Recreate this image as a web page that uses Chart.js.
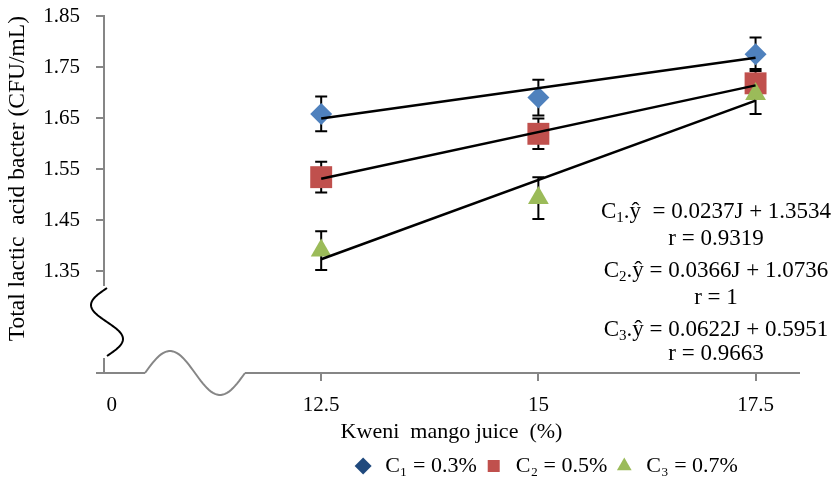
<!DOCTYPE html>
<html>
<head>
<meta charset="utf-8">
<script src="https://cdn.jsdelivr.net/npm/chart.js@4.4.1/dist/chart.umd.min.js"></script>
<style>
  html, body { margin: 0; padding: 0; background: #fff; }
  #wrap { width: 838px; height: 477px; }
</style>
</head>
<body>
<div id="wrap"><canvas id="myChart"></canvas></div>
<script>
const FONT = "'Liberation Serif', 'Times New Roman', serif";
const GRAY = "#868686";
const COLOR = ["#4F81BD", "#C0504D", "#9BBB59"];

// data
const juice = [12.5, 15, 17.5];
const c1 = [1.658, 1.690, 1.775];
const c2 = [1.534, 1.619, 1.718];
const c3 = [1.390, 1.493, 1.697];
const err1 = [0.034, 0.035, 0.033];
const err2 = [0.030, 0.030, 0.028];
const err3 = [0.038, 0.041, 0.039];
const trendX = [12.5, 17.5];
const trend1 = [1.649, 1.768];
const trend2 = [1.531, 1.714];
const trend3 = [1.373, 1.684];
const yTicks = [1.15, 1.35, 1.45, 1.55, 1.65, 1.75, 1.85];
const xTicks = [10.09, 12.5, 15, 17.5];
const xLabels = ["0", "12.5", "15", "17.5"];
const names = ["C\u2081 = 0.3%", "C\u2082 = 0.5%", "C\u2083 = 0.7%"];
const equations = [
  ["C", "1", ".\u0177  = 0.0237J + 1.3534"],
  ["", "", "r = 0.9319"],
  ["C", "2", ".\u0177 = 0.0366J + 1.0736"],
  ["", "", "r = 1"],
  ["C", "3", ".\u0177 = 0.0622J + 0.5951"],
  ["", "", "r = 0.9663"],
];
const errs = [err1, err2, err3];

const pts = (xs, ys) => xs.map((x, i) => ({ x: x, y: ys[i] }));

const trendSet = (ys) => ({
  type: "line",
  data: pts(trendX, ys),
  showLine: true,
  borderColor: "#000",
  borderWidth: 2.5,
  pointRadius: 0,
  order: 1,
});

const extras = {
  id: "extras",
  afterLayout(chart) {
    // centre the legend row under the plot like the original
    const lg = chart.legend;
    const shift = 545 - (lg.left + lg.right) / 2;
    lg.left += shift;
    lg.right += shift;
  },
  beforeDatasetsDraw(chart) {
    const c = chart.ctx;
    const ys = chart.scales.y;
    c.save();
    c.strokeStyle = "#000";
    c.lineWidth = 2;
    for (let d = 0; d < 3; d++) {
      const meta = chart.getDatasetMeta(d);
      const vals = chart.data.datasets[d].data;
      meta.data.forEach((p, i) => {
        const top = ys.getPixelForValue(vals[i].y + errs[d][i]);
        const bot = ys.getPixelForValue(vals[i].y - errs[d][i]);
        c.beginPath();
        c.moveTo(p.x, top); c.lineTo(p.x, bot);
        c.moveTo(p.x - 6, top); c.lineTo(p.x + 6, top);
        c.moveTo(p.x - 6, bot); c.lineTo(p.x + 6, bot);
        c.stroke();
      });
    }
    c.restore();
  },
  afterDraw(chart) {
    const c = chart.ctx;
    const a = chart.chartArea;
    c.save();
    // y axis break
    c.fillStyle = "#fff";
    c.fillRect(a.left - 3, a.bottom - 87, 6, 72);
    c.strokeStyle = "#000";
    c.lineWidth = 2;
    c.beginPath();
    for (let s = 0; s <= 1.0001; s += 0.02) {
      const y = a.bottom - 85 + 68 * s;
      const x = a.left + 3 - 16 * Math.sin(2 * Math.PI * s);
      s === 0 ? c.moveTo(x, y) : c.lineTo(x, y);
    }
    c.stroke();
    // x axis break
    c.fillStyle = "#fff";
    c.fillRect(a.left + 41, a.bottom - 3, 100, 6);
    c.strokeStyle = GRAY;
    c.beginPath();
    for (let s = 0; s <= 1.0001; s += 0.02) {
      const x = a.left + 41 + 100 * s;
      const y = a.bottom - 22 * Math.sin(2 * Math.PI * s);
      s === 0 ? c.moveTo(x, y) : c.lineTo(x, y);
    }
    c.stroke();
    // regression equations
    c.fillStyle = "#000";
    c.textBaseline = "alphabetic";
    const cy = [218, 245, 277, 304, 336, 360];
    equations.forEach((e, i) => {
      c.font = "23px " + FONT;
      const w0 = c.measureText(e[0]).width;
      const w2 = c.measureText(e[2]).width;
      c.font = "15px " + FONT;
      const w1 = c.measureText(e[1]).width;
      let x = 716 - (w0 + w1 + w2) / 2;
      c.font = "23px " + FONT;
      c.fillText(e[0], x, cy[i]);
      x += w0;
      c.font = "15px " + FONT;
      c.fillText(e[1], x, cy[i] + 4);
      x += w1;
      c.font = "23px " + FONT;
      c.fillText(e[2], x, cy[i]);
    });
    c.restore();
  },
};

Chart.defaults.font.family = FONT;
Chart.defaults.color = "#000";

new Chart(document.getElementById("myChart"), {
  type: "scatter",
  data: {
    datasets: [
      { label: names[0], data: pts(juice, c1), pointStyle: "rectRot", pointRadius: 11,
        backgroundColor: COLOR[0], borderColor: COLOR[0], borderWidth: 0, order: 4 },
      { label: names[1], data: pts(juice, c2), pointStyle: "rect", pointRadius: 15.5,
        backgroundColor: COLOR[1], borderColor: COLOR[1], borderWidth: 0, order: 3 },
      { label: names[2], data: pts(juice, c3), pointStyle: "triangle", pointRadius: 12,
        backgroundColor: COLOR[2], borderColor: COLOR[2], borderWidth: 0, order: 2 },
      trendSet(trend1),
      trendSet(trend2),
      trendSet(trend3),
    ],
  },
  options: {
    responsive: true,
    maintainAspectRatio: false,
    animation: false,
    layout: { padding: { left: 0, right: 39, top: 0, bottom: -10 } },
    scales: {
      x: {
        type: "linear",
        min: 10,
        max: 18,
        afterBuildTicks: (s) => { s.ticks = xTicks.map((v) => ({ value: v })); },
        afterFit: (s) => { s.height = 76; },
        ticks: {
          autoSkip: false,
          maxRotation: 0,
          padding: 12,
          font: { size: 21 },
          callback: (v, i) => xLabels[i],
        },
        grid: {
          drawOnChartArea: false,
          tickLength: 8,
          lineWidth: 2,
          tickColor: (ctx) => (ctx.tick && ctx.tick.value < 11 ? "rgba(0,0,0,0)" : GRAY),
        },
        border: { color: GRAY, width: 2 },
        title: {
          display: true,
          text: "Kweni  mango juice  (%)",
          font: { size: 22 },
          padding: { top: 0, bottom: 4 },
        },
      },
      y: {
        min: 1.15,
        max: 1.85,
        afterBuildTicks: (s) => { s.ticks = yTicks.map((v) => ({ value: v })); },
        afterFit: (s) => {
          s.width = 104;
          s.paddingTop = 16;
          s.paddingBottom = 0;
        },
        ticks: {
          autoSkip: false,
          padding: 16,
          font: { size: 21 },
          callback: (v) => (v < 1.2 ? "" : v.toFixed(2)),
        },
        grid: { drawOnChartArea: false, tickLength: 8, lineWidth: 2, tickColor: GRAY },
        border: { color: GRAY, width: 2 },
        title: {
          display: true,
          text: "Total lactic  acid bacter (CFU/mL)",
          align: "end",
          font: { size: 23.5 },
          padding: 4,
        },
      },
    },
    plugins: {
      tooltip: { enabled: false },
      legend: {
        position: "bottom",
        labels: {
          usePointStyle: true,
          boxHeight: 12,
          padding: 6,
          font: { size: 22 },
          filter: (item) => item.datasetIndex < 3,
          sort: (a, b) => a.datasetIndex - b.datasetIndex,
          generateLabels: (chart) => {
            const items = Chart.defaults.plugins.legend.labels.generateLabels(chart);
            items.forEach((it) => {
              if (it.datasetIndex === 0) { it.fillStyle = "#1F497D"; it.strokeStyle = "#1F497D"; }
            });
            return items;
          },
        },
      },
    },
  },
  plugins: [extras],
});
</script>
</body>
</html>
